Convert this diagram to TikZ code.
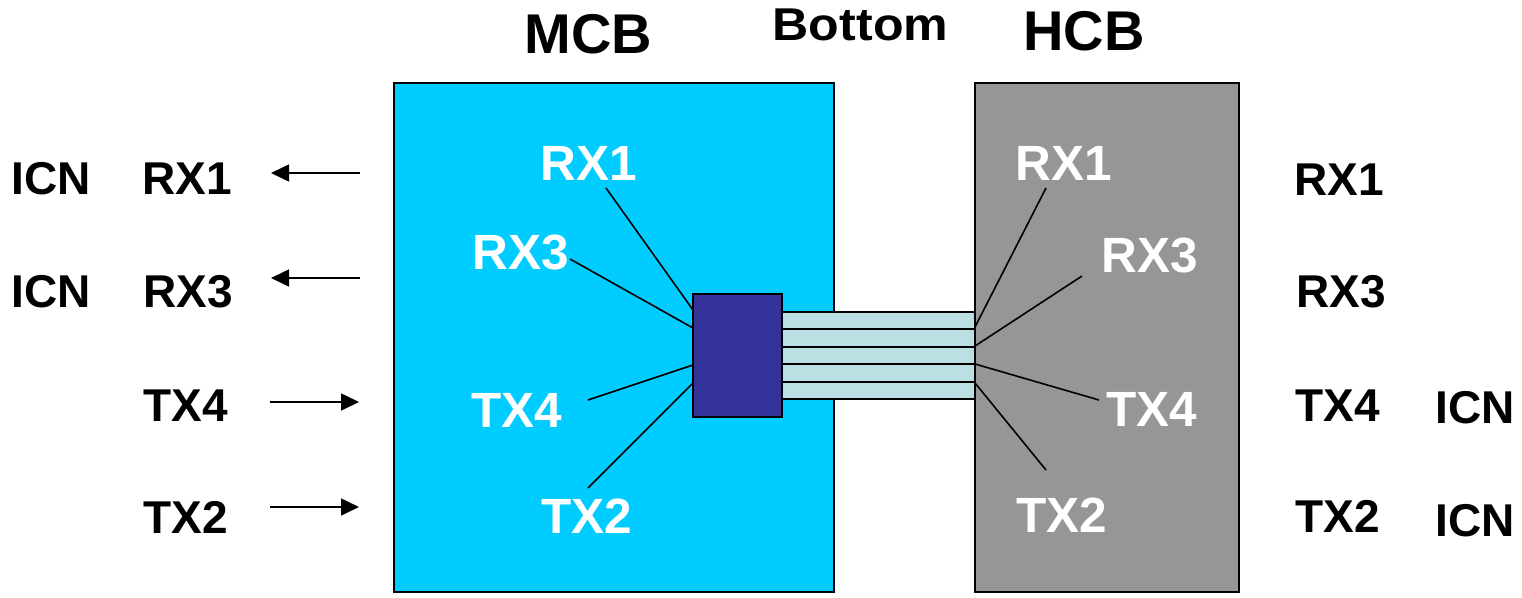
\documentclass[tikz,border=0pt]{standalone}
\usepackage{fontspec}
\setmainfont{Liberation Sans}
\usetikzlibrary{arrows.meta}
\definecolor{mcbcol}{HTML}{00CCFF}
\definecolor{hcbcol}{HTML}{969696}
\definecolor{concol}{HTML}{333399}
\definecolor{stripcol}{HTML}{BBE0E3}
\begin{document}
\begin{tikzpicture}[x=1pt,y=-1pt,
  lbl/.style={inner sep=0pt,anchor=base,font=\fontsize{46}{50}\selectfont\bfseries,text=black},
  wlbl/.style={inner sep=0pt,anchor=base,font=\fontsize{49.5}{54}\selectfont\bfseries,text=white},
  title/.style={inner sep=0pt,anchor=base,font=\fontsize{56}{60}\selectfont\bfseries,text=black},
  board/.style={draw=black,line width=2pt},
  fan/.style={draw=black,line width=1.6pt},
  sig/.style={draw=black,line width=1.6pt,-{Triangle[length=18pt,width=17pt]}},
  strip/.style={draw=black,line width=2pt,fill=stripcol}]
\useasboundingbox (0,0) rectangle (1522,597);
% boards
\draw[board,fill=mcbcol] (394,83) rectangle (834,592);
\draw[board,fill=hcbcol] (975,83) rectangle (1239,592);
% cable strips
\foreach \i in {0,...,4}{
  \draw[strip] (782,{312+17.4*\i}) rectangle (975,{312+17.4*(\i+1)});
}
% connector
\node[draw=black,line width=2pt,fill=concol,minimum width=89pt,minimum height=123pt,inner sep=0pt] (conn) at (737.5,355.5) {};
% titles
\node[title] (mcb) at (588.5,53) {MCB};
\node[title,font=\fontsize{46}{50}\selectfont\bfseries] (bottom) at (860.5,40) {\scalebox{1.09}[1]{Bottom}};
\node[title] (hcb) at (1084,50) {HCB};
% MCB labels
\node[wlbl] (mrx1) at (588.5,180) {RX1};
\node[wlbl] (mrx3) at (521,269) {RX3};
\node[wlbl] (mtx4) at (516.5,427) {TX4};
\node[wlbl] (mtx2) at (587,533) {TX2};
% HCB labels
\node[wlbl] (hrx1) at (1063.5,180) {RX1};
\node[wlbl] (hrx3) at (1150,272) {RX3};
\node[wlbl] (htx4) at (1152,426) {TX4};
\node[wlbl] (htx2) at (1061.5,532) {TX2};
% MCB fan lines
\coordinate (ma1) at (606,188);  \coordinate (mb1) at (693,310);
\coordinate (ma3) at (570,259);  \coordinate (mb3) at (693,328);
\coordinate (ma4) at (588,400);  \coordinate (mb4) at (693,365);
\coordinate (ma2) at (588,488);  \coordinate (mb2) at (693,383);
\draw[fan] (ma1) -- (mb1);
\draw[fan] (ma3) -- (mb3);
\draw[fan] (ma4) -- (mb4);
\draw[fan] (ma2) -- (mb2);
% HCB fan lines
\coordinate (ha1) at (1046,188); \coordinate (hb1) at (975,327);
\coordinate (ha3) at (1082,276); \coordinate (hb3) at (975,346);
\coordinate (ha4) at (1099,400); \coordinate (hb4) at (975,364);
\coordinate (ha2) at (1046,470); \coordinate (hb2) at (975,383);
\draw[fan] (ha1) -- (hb1);
\draw[fan] (ha3) -- (hb3);
\draw[fan] (ha4) -- (hb4);
\draw[fan] (ha2) -- (hb2);
% left labels
\node[lbl] (licn1) at (51.5,194) {ICN};
\node[lbl] (lrx1) at (187,194) {RX1};
\node[lbl] (licn3) at (51.5,307) {ICN};
\node[lbl] (lrx3) at (188.5,307) {RX3};
\node[lbl] (ltx4) at (185.5,421) {TX4};
\node[lbl] (ltx2) at (185.5,533) {TX2};
% left arrows
\coordinate (s1) at (360,173); \coordinate (e1) at (271,173);
\coordinate (s3) at (360,278); \coordinate (e3) at (271,278);
\coordinate (s4) at (270,402); \coordinate (e4) at (359,402);
\coordinate (s2) at (270,507); \coordinate (e2) at (359,507);
\draw[sig] (s1) -- (e1);
\draw[sig] (s3) -- (e3);
\draw[sig] (s4) -- (e4);
\draw[sig] (s2) -- (e2);
% right labels
\node[lbl] (rrx1) at (1339,195) {RX1};
\node[lbl] (rrx3) at (1341.5,307) {RX3};
\node[lbl] (rtx4) at (1337.5,421) {TX4};
\node[lbl] (ricn4) at (1475,423) {ICN};
\node[lbl] (rtx2) at (1338,532) {TX2};
\node[lbl] (ricn2) at (1475,536) {ICN};
\end{tikzpicture}
\end{document}
